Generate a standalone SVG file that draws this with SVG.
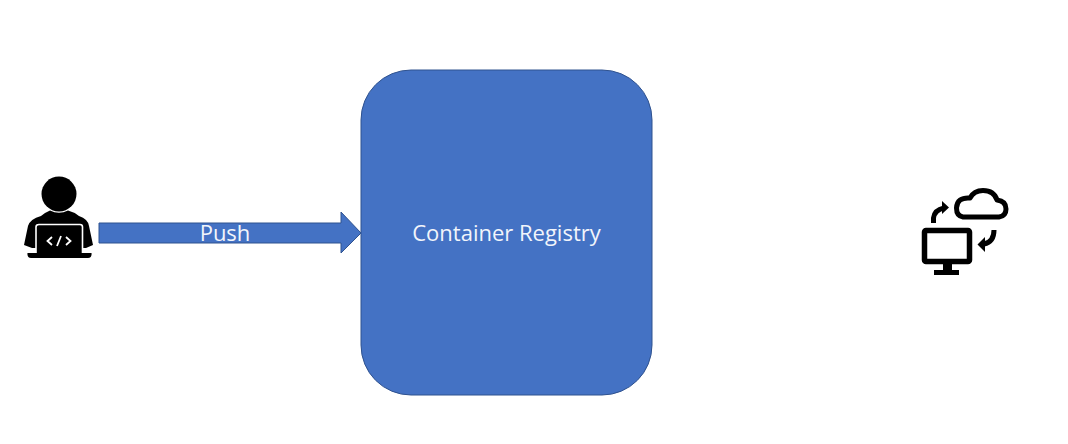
<svg xmlns="http://www.w3.org/2000/svg" width="1068" height="444" viewBox="0 0 1068 444">
<style>
.blue{fill:#4472c4;stroke:#2f528f;stroke-width:1}
.lbl{font-family:"Open Sans","Noto Sans",sans-serif;font-size:22px;fill:#f2f5fb}
.ic{fill:none;stroke:#000;stroke-linejoin:round}
</style>
<rect width="1068" height="444" fill="#fff"/>
<g id="connectors">
<path class="blue" d="M99 223H341V212L361 233L341 253V243H99Z"/>
<text class="lbl" x="225" y="240.500" text-anchor="middle">Push</text>
</g>
<g id="registry">
<rect class="blue" x="361" y="70" width="291" height="325" rx="50" ry="50"/>
<text class="lbl" x="506.500" y="240.500" text-anchor="middle">Container Registry</text>
</g>
<g id="developer">
<circle cx="59" cy="194" r="17.500"/>
<path d="M41 216Q46 212 50 210.500Q59 215 68 210.500Q74 212 79 216Q88 219 89 226L93 245L86 248H32L24 245L28 226Q30 219 41 216Z"/>
<path d="M36 253V227Q36 224.500 39 224.500H80Q82.500 224.500 82.500 227V253" fill="#000" stroke="#fff" stroke-width="1.600"/>
<path d="M27.500 253H91.500Q92 258 88 258H31Q27 258 27.500 253Z"/>
<path d="M52 237L47.500 241L52 245M66 237L70.500 241L66 245M61 236L57 246" fill="none" stroke="#fff" stroke-width="1.800"/>
</g>
<g id="cloud-sync">
<rect class="ic" x="924.500" y="230.500" width="45" height="31" rx="1.500" stroke-width="5.500"/>
<path d="M943 264H952V270H959V275H934V270H943Z"/>
<path class="ic" stroke-width="5" d="M963 217H999Q1006 216 1006 209Q1006 201 997 200Q994 190.500 983 190.500Q974 190.500 970 198Q957 197 956.500 208Q956.500 216 963 217Z"/>
<path class="ic" stroke-width="5" d="M933.500 223V218Q934.500 210 944 208"/>
<path d="M942 201L949 207.500L942 214Z"/>
<path class="ic" stroke-width="5" d="M994 230Q994 242 984 244"/>
<path d="M985 237L977.500 244.500L985 252Z"/>
</g>
</svg>
